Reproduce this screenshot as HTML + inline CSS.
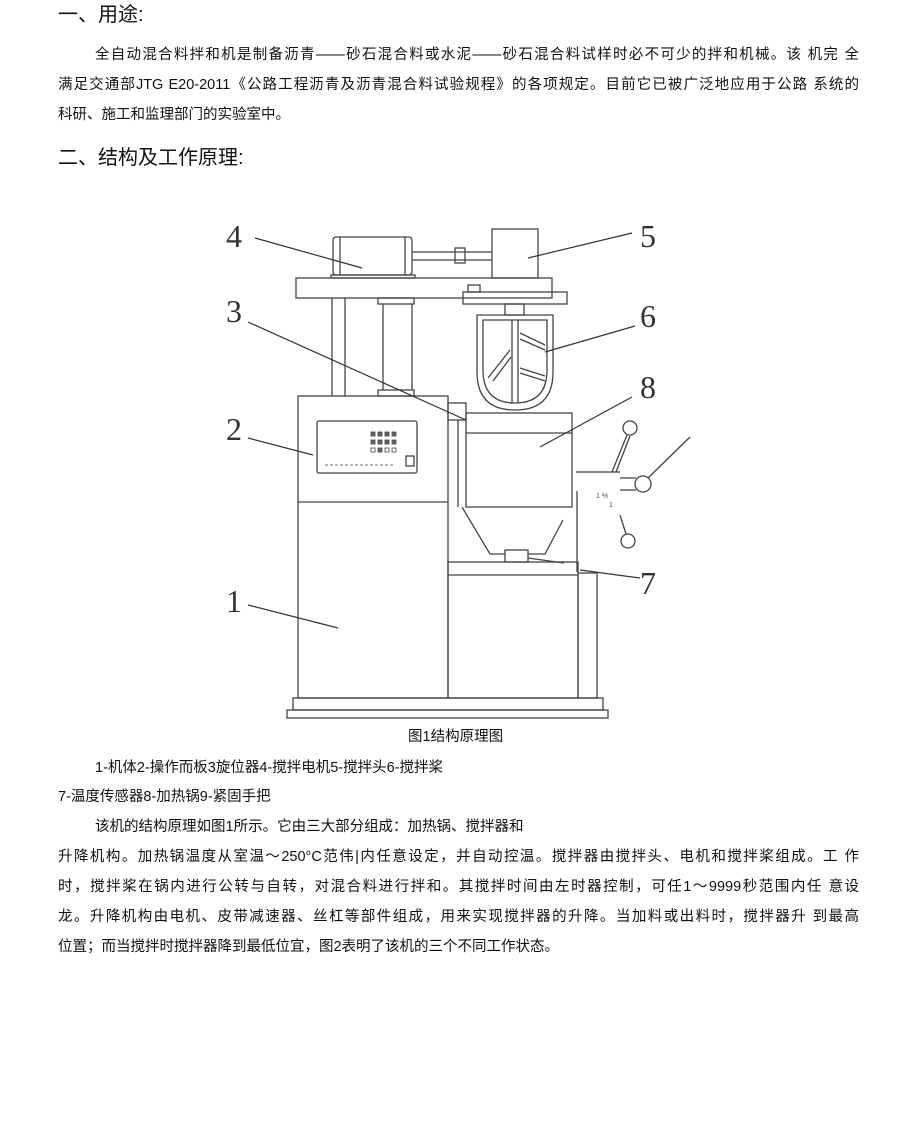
<!DOCTYPE html>
<html><head><meta charset="utf-8"><style>
body{margin:0;width:920px;height:1132px;background:#fff;position:relative;overflow:hidden;font-family:"Liberation Sans","Noto Sans CJK SC",sans-serif;color:#111}
.t{position:absolute;font-size:14.5px;line-height:18px;white-space:nowrap}
.j{text-align:justify;text-align-last:justify;white-space:normal}
.h{position:absolute;font-size:20px;line-height:24px;white-space:nowrap}
svg{position:absolute;left:0;top:0}
</style></head><body>
<div class="h" style="left:58px;top:3px">一、用途:</div>
<div class="t j" style="left:95px;top:46px;width:764px">全自动混合料拌和机是制备沥青——砂石混合料或水泥——砂石混合料试样时必不可少的拌和机械。该 机完 全</div>
<div class="t j" style="left:58px;top:76px;width:801px">满足交通部JTG E20-2011《公路工程沥青及沥青混合料试验规程》的各项规定。目前它已被广泛地应用于公路 系统的</div>
<div class="t" style="left:58px;top:106px">科研、施工和监理部门的实验室中。</div>
<div class="h" style="left:58px;top:146px">二、结构及工作原理:</div>

<svg width="920" height="1132" viewBox="0 0 920 1132" fill="none" stroke="#444" stroke-width="1.3">
<!-- base -->
<rect x="287" y="710" width="321" height="8"/>
<rect x="293" y="698" width="310" height="12"/>
<!-- body left -->
<rect x="298" y="396" width="150" height="302"/>
<line x1="298" y1="502" x2="448" y2="502"/>
<rect x="317" y="421" width="100" height="52" rx="2"/>
<g stroke-width="0.8" fill="#666">
<rect x="371" y="432" width="4" height="4"/><rect x="378" y="432" width="4" height="4"/><rect x="385" y="432" width="4" height="4"/><rect x="392" y="432" width="4" height="4"/>
<rect x="371" y="440" width="4" height="4"/><rect x="378" y="440" width="4" height="4"/><rect x="385" y="440" width="4" height="4"/><rect x="392" y="440" width="4" height="4"/>
<rect x="371" y="448" width="4" height="4" fill="none"/><rect x="378" y="448" width="4" height="4"/><rect x="385" y="448" width="4" height="4" fill="none"/><rect x="392" y="448" width="4" height="4" fill="none"/>
</g>
<rect x="406" y="456" width="8" height="10"/>
<line x1="325" y1="465" x2="395" y2="465" stroke-dasharray="3 2" stroke-width="0.8"/>
<!-- right lower box -->
<rect x="448" y="562" width="130" height="136"/>
<line x1="448" y1="575" x2="578" y2="575"/>
<rect x="578" y="573" width="19" height="125"/>
<!-- columns -->
<line x1="332" y1="298" x2="332" y2="396"/><line x1="345" y1="298" x2="345" y2="396"/>
<rect x="378" y="298" width="36" height="6"/>
<line x1="383" y1="304" x2="383" y2="390"/><line x1="412" y1="304" x2="412" y2="390"/>
<rect x="378" y="390" width="36" height="6"/>
<!-- sensor 3 -->
<rect x="448" y="403" width="18" height="17"/>
<line x1="458" y1="420" x2="458" y2="507"/>
<!-- pot 8 -->
<rect x="466" y="413" width="106" height="94"/>
<line x1="466" y1="433" x2="572" y2="433"/>
<line x1="466" y1="507" x2="466" y2="507"/>
<polyline points="462,507 490,554 505,554"/>
<polyline points="528,554 545,554 563,520"/>
<rect x="505" y="550" width="23" height="12"/>
<line x1="528" y1="558" x2="564" y2="563"/>
<!-- top plate -->
<rect x="296" y="278" width="256" height="20"/>
<rect x="463" y="292" width="104" height="12"/>
<rect x="468" y="285" width="12" height="7"/>
<!-- motor -->
<rect x="333" y="237" width="79" height="38" rx="3"/>
<line x1="340" y1="237" x2="340" y2="275"/><line x1="405" y1="237" x2="405" y2="275"/>
<rect x="331" y="275" width="84" height="3"/>
<line x1="412" y1="252" x2="492" y2="252"/><line x1="412" y1="260" x2="492" y2="260"/>
<rect x="455" y="248" width="10" height="15"/>
<!-- head 5 -->
<rect x="492" y="229" width="46" height="49"/>
<!-- shaft & bowl 6 -->
<rect x="505" y="304" width="19" height="11"/>
<path d="M477 315 L553 315 L553 372 Q553 410 515 410 Q477 410 477 372 Z"/>
<path d="M483 320 L547 320 L547 370 Q547 403 515 403 Q483 403 483 370 Z"/>
<line x1="512" y1="320" x2="512" y2="403"/><line x1="518" y1="320" x2="518" y2="403"/>
<line x1="488" y1="378" x2="510" y2="350"/><line x1="493" y1="381" x2="511" y2="357"/>
<line x1="520" y1="333" x2="545" y2="345"/><line x1="520" y1="339" x2="545" y2="350"/>
<line x1="520" y1="368" x2="545" y2="376"/><line x1="520" y1="373" x2="545" y2="381"/>
<!-- handles -->
<line x1="576" y1="472" x2="620" y2="472"/>
<line x1="612" y1="472" x2="627" y2="435"/><line x1="616" y1="472" x2="630" y2="436"/>
<circle cx="630" cy="428" r="7"/>
<line x1="620" y1="478" x2="636" y2="478"/><line x1="620" y1="490" x2="636" y2="490"/>
<circle cx="643" cy="484" r="8"/>
<line x1="648" y1="478" x2="690" y2="437"/>
<line x1="620" y1="500" x2="620" y2="500"/>
<line x1="620" y1="515" x2="626" y2="534"/>
<circle cx="628" cy="541" r="7"/>
<line x1="577" y1="491" x2="577" y2="572"/>
<!-- leaders -->
<g stroke="#333" stroke-width="1.2">
<line x1="255" y1="238" x2="362" y2="268"/>
<line x1="632" y1="233" x2="528" y2="258"/>
<line x1="248" y1="322" x2="466" y2="420"/>
<line x1="635" y1="326" x2="545" y2="352"/>
<line x1="632" y1="397" x2="540" y2="447"/>
<line x1="248" y1="438" x2="313" y2="455"/>
<line x1="640" y1="578" x2="580" y2="570"/>
<line x1="248" y1="605" x2="338" y2="628"/>
</g>
<g fill="#333" stroke="none" font-family="Liberation Serif, serif" font-size="32">
<text x="226" y="247">4</text><text x="640" y="247">5</text>
<text x="226" y="322">3</text><text x="640" y="327">6</text>
<text x="640" y="398">8</text><text x="226" y="440">2</text>
<text x="640" y="594">7</text><text x="226" y="612">1</text>
</g>
<g fill="#555" stroke="none" font-size="7" font-family="Liberation Sans,sans-serif">
<text x="596" y="498">1 %</text><text x="609" y="507">1</text>
</g>
</svg>

<div class="t" style="left:408px;top:728px">图1结构原理图</div>
<div class="t" style="left:95px;top:759px">1-机体2-操作而板3旋位器4-搅拌电机5-搅拌头6-搅拌桨</div>
<div class="t" style="left:58px;top:788px">7-温度传感器8-加热锅9-紧固手把</div>
<div class="t" style="left:95px;top:818px">该机的结构原理如图1所示。它由三大部分组成：加热锅、搅拌器和</div>
<div class="t j" style="left:58px;top:848px;width:801px">升降机构。加热锅温度从室温～250°C范伟|内任意设定，并自动控温。搅拌器由搅拌头、电机和搅拌桨组成。工 作</div>
<div class="t j" style="left:58px;top:878px;width:801px">时，搅拌桨在锅内进行公转与自转，对混合料进行拌和。其搅拌时间由左时器控制，可任1～9999秒范围内任 意设</div>
<div class="t j" style="left:58px;top:908px;width:801px">龙。升降机构由电机、皮带减速器、丝杠等部件组成，用来实现搅拌器的升降。当加料或出料时，搅拌器升 到最高</div>
<div class="t" style="left:58px;top:938px">位置；而当搅拌时搅拌器降到最低位宜，图2表明了该机的三个不同工作状态。</div>
</body></html>
